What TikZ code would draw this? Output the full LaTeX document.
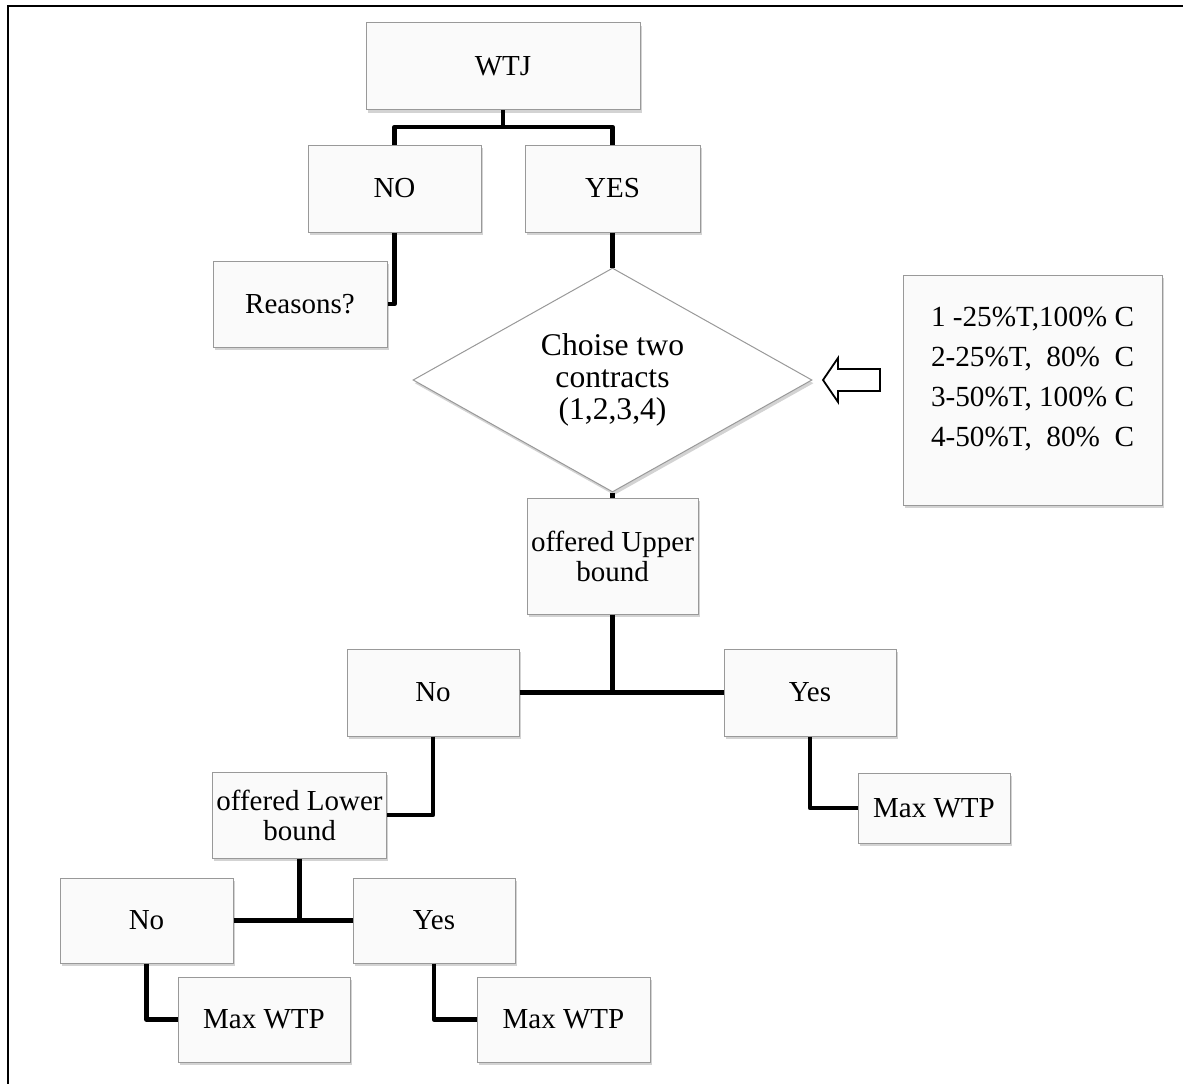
\documentclass[tikz,border=0pt]{standalone}
\usepackage{fontspec}
\setmainfont{Liberation Serif}
\usetikzlibrary{shapes.geometric,shadows}

\tikzset{
  box/.style = {draw = black!40, line width = .5pt, fill = white!98!black,
    drop shadow = {shadow xshift = .8pt, shadow yshift = -1.6pt, opacity = .35},
    inner sep = 2pt, align = center, font = \fontsize{14.5}{15}\selectfont},
  choicebox/.style = {box, diamond, aspect = 1.78, inner sep = 0pt,
    fill = white, font = \fontsize{15.8}{16}\selectfont},
  link/.style = {line width = 2.4pt, line join = round}
}

\begin{document}
\begin{tikzpicture}
      [x = .5pt, y = -.5pt]
      \useasboundingbox (0,0) rectangle (1183,1083);
      \draw[line width = 1pt] (8,1090) -- (8,6) -- (1190,6);

      % top part
      \node[box, minimum width = 137pt, minimum height = 43.5pt] (wtj) at (503,66) {WTJ};
      \node[box, minimum width = 86.5pt, minimum height = 43.5pt] (no) at (394.5,188.5) {NO};
      \node[box, minimum width = 87.5pt, minimum height = 43.5pt] (yes) at (612.5,188.5) {YES};
      \node[box, minimum width = 87pt, minimum height = 43pt] (reasons) at (300,304) {Reasons?};
      \node[choicebox, minimum width = 199.5pt, minimum height = 112pt] (choice) at (612.5,380)
        {Choise two\\contracts\\(1,2,3,4)};
      \node[box, minimum width = 129.5pt, minimum height = 115pt,
        font = \fontsize{14.6}{20}\selectfont, align = left] (contracts) at (1032.5,390)
        {1 -25\%T,100\% C\\2-25\%T,\ \ 80\%\ \ C\\3-50\%T, 100\% C\\4-50\%T,\ \ 80\%\ \ C\\[-7pt]\mbox{}};
      \draw[line width = .9pt, line join = miter, fill = white]
        (823,380) -- (838,358) -- (838,369) -- (880,369) -- (880,391) -- (838,391) -- (838,402) -- cycle;

      % upper bound
      \node[box, minimum width = 85.5pt, minimum height = 58pt] (upper) at (612.5,556) {offered Upper\\bound};
      \node[box, minimum width = 86pt, minimum height = 43.5pt] (noA) at (433,692.5) {No};
      \node[box, minimum width = 86pt, minimum height = 43.5pt] (yesA) at (810,692.5) {Yes};
      \node[box, minimum width = 76pt, minimum height = 35pt] (maxA) at (934,808) {Max WTP};

      % lower bound
      \node[box, minimum width = 85.5pt, minimum height = 43pt] (lower) at (299.5,815) {offered Lower\\bound};
      \node[box, minimum width = 86.5pt, minimum height = 42.5pt] (noB) at (146.5,920.5) {No};
      \node[box, minimum width = 81pt, minimum height = 42.5pt] (yesB) at (434,920.5) {Yes};
      \node[box, minimum width = 86pt, minimum height = 42.5pt] (maxB1) at (264,1019.5) {Max WTP};
      \node[box, minimum width = 86.5pt, minimum height = 42.5pt] (maxB2) at (563.5,1019.5) {Max WTP};

      \coordinate (top) at (503,127);
      \draw[link] (wtj.south) -- (top);
      \draw[link] (no.north) |- (top) -| (yes.north);
      \draw[link] (no.south) |- (reasons.east);
      \draw[link] (yes.south) -- (choice.north);
      \draw[link] (choice.south) -- (upper.north);
      \draw[link] (upper.south) -- (upper.south |- noA.east);
      \draw[link] (noA.east) -- (yesA.west);
      \draw[link] (noA.south) |- (lower.east);
      \draw[link] (lower.south) -- (lower.south |- noB.east);
      \draw[link] (noB.east) -- (yesB.west);
      \foreach \from/\to in {yesA/maxA, noB/maxB1, yesB/maxB2}
        \draw[link] (\from.south) |- (\to.west);
    \end{tikzpicture}
\end{document}
